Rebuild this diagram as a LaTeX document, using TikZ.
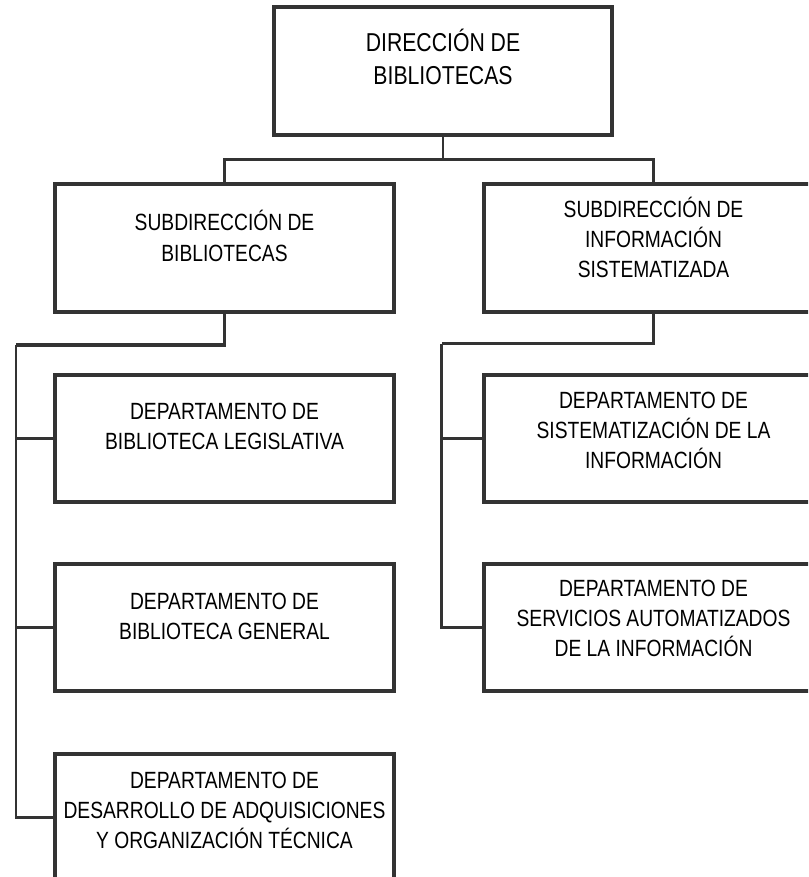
\documentclass[tikz,border=0pt]{standalone}
\usepackage{fontspec}
\setmainfont[FakeStretch=0.82]{Liberation Sans}
\definecolor{boxline}{RGB}{51,51,51}
\tikzset{
  box/.style={draw=boxline, line width=2.5pt, rectangle, inner sep=0pt, outer sep=0pt},
  bigbox/.style={box, minimum width=253.5pt, minimum height=96pt},
  midbox/.style={box, minimum width=254.25pt, minimum height=96pt},
  depbox/.style={box, minimum width=254.25pt, minimum height=95.25pt},
  lbl/.style={align=center, inner sep=0pt, anchor=base, text=black,
              font=\fontsize{17.6pt}{22.5pt}\selectfont},
  biglbl/.style={lbl, font=\fontsize{19.4pt}{25pt}\selectfont},
  conn/.style={draw=boxline, line width=1.7pt},
  thickconn/.style={draw=boxline, line width=2.4pt}
}
\begin{document}
\begin{tikzpicture}[x=0.75pt, y=-0.75pt]
\useasboundingbox (0,0) rectangle (808,877);
\begin{scope}
\clip (0,0) rectangle (808,877);
\fill[white] (0,0) rectangle (808,877);
% boxes
\node[bigbox] (top) at (443,71) {};
\node[midbox] (subL) at (224.5,248) {};
\node[midbox] (subR) at (653.5,248) {};
\node[depbox] (d1) at (224.5,438.5) {};
\node[depbox] (d2) at (224.5,627.5) {};
\node[depbox] (d3) at (224.5,817.5) {};
\node[depbox] (d4) at (653.5,438.5) {};
\node[depbox] (d5) at (653.5,627.5) {};
% labels (anchor base = baseline of the last line)
\node[biglbl] (tTop) at (443,85) {DIRECCIÓN DE\\BIBLIOTECAS};
\node[lbl] (tSubL) at (224.5,261) {SUBDIRECCIÓN DE\\BIBLIOTECAS};
\node[lbl] (tSubR) at (653.5,277.3) {SUBDIRECCIÓN DE\\INFORMACIÓN\\SISTEMATIZADA};
\node[lbl] (tD1) at (224.5,449.5) {DEPARTAMENTO DE\\BIBLIOTECA LEGISLATIVA};
\node[lbl] (tD2) at (224.5,639) {DEPARTAMENTO DE\\BIBLIOTECA GENERAL};
\node[lbl] (tD3) at (224.5,848.5) {DEPARTAMENTO DE\\DESARROLLO DE ADQUISICIONES\\Y ORGANIZACIÓN TÉCNICA};
\node[lbl] (tD4) at (653.5,468) {DEPARTAMENTO DE\\SISTEMATIZACIÓN DE LA\\INFORMACIÓN};
\node[lbl] (tD5) at (653.5,656.7) {DEPARTAMENTO DE\\SERVICIOS AUTOMATIZADOS\\DE LA INFORMACIÓN};
% junctions
\coordinate (j1) at (443,159.5);
\coordinate (railL) at (16,345);
\coordinate (railR) at (441.5,343.5);
% connectors
\draw[conn] (top.south) -- (j1);
\draw[conn] (subL.north) |- (j1) -| (subR.north);
\draw[thickconn] (subL.south) |- (railL);
\draw[conn] (railL) -- (railL |- d3.west) -- (d3.west);
\draw[conn] (railL |- d1.west) -- (d1.west);
\draw[conn] (railL |- d2.west) -- (d2.west);
\draw[thickconn] (subR.south) |- (railR);
\draw[conn] (railR) -- (railR |- d5.west) -- (d5.west);
\draw[conn] (railR |- d4.west) -- (d4.west);
\end{scope}
\end{tikzpicture}
\end{document}
